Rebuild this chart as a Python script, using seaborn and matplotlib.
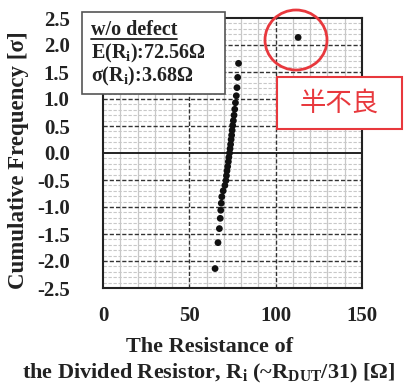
import matplotlib
matplotlib.use("Agg")
import matplotlib.pyplot as plt
import seaborn as sns
import pandas as pd
from matplotlib.patches import Rectangle, Ellipse
from matplotlib.lines import Line2D

# ---- data ----
resistance = [64.9, 66.6, 67.4, 67.9, 68.2, 68.5, 68.8, 69.6, 70.6, 71.2,
              71.5, 71.8, 72.2, 72.6, 72.9, 73.3, 73.6, 73.9, 74.2, 74.5,
              74.8, 75.1, 75.5, 75.9, 76.3, 76.7, 77.2, 77.6, 78.0, 78.5,
              113.0]
cum_freq = [-2.14, -1.66, -1.40, -1.21, -1.06, -0.93, -0.81, -0.70, -0.60, -0.51,
            -0.42, -0.33, -0.25, -0.16, -0.08, 0.00, 0.08, 0.16, 0.25, 0.33,
            0.42, 0.51, 0.60, 0.70, 0.81, 0.93, 1.06, 1.21, 1.40, 1.66,
            2.14]
x_ticks = [0, 50, 100, 150]
y_ticks = [-2.5, -2.0, -1.5, -1.0, -0.5, 0.0, 0.5, 1.0, 1.5, 2.0, 2.5]
stats_lines = ["w/o defect", r"E(R$_\mathrm{i}$):72.56Ω", r"σ(R$_\mathrm{i}$):3.68Ω"]
xlabel_lines = ["The Resistance of",
                r"the Divided Resistor, R$_\mathrm{i}$ (~R$_\mathrm{DUT}$/31) [Ω]"]
ylabel = "Cumulative Frequency [σ]"
outlier_label = "半不良"

df = pd.DataFrame({"R": resistance, "z": cum_freq})

sns.set_style("white")
plt.rcParams['font.family'] = ['Liberation Serif', 'DejaVu Serif']
plt.rcParams['font.weight'] = 'bold'
plt.rcParams['mathtext.fontset'] = 'custom'
plt.rcParams['mathtext.rm'] = 'Liberation Serif:bold'
plt.rcParams['mathtext.it'] = 'Liberation Serif:bold:italic'
plt.rcParams['mathtext.bf'] = 'Liberation Serif:bold'

W, H = 406, 385
fig = plt.figure(figsize=(W / 100, H / 100), dpi=100)
L, R_, T, B = 103, 362, 18, 288
ax = fig.add_axes([L / W, 1 - B / H, (R_ - L) / W, (B - T) / H])

# grids
for v in range(0, 151, 10):
    if v % 50 != 0:
        ax.axvline(v, color='#c8c8c8', lw=0.9, zorder=0)
for k in range(-25, 26):
    v = k / 10
    if k % 5 != 0:
        ax.axhline(v, color='#c8c8c8', lw=0.8, ls=(0, (3, 1.5)), zorder=0)
for v in [50, 100]:
    ax.axvline(v, color='#333333', lw=1.0, ls=(0, (3, 1.5)), zorder=1)
for v in y_ticks[1:-1]:
    if v == 0:
        ax.axhline(v, color='#222222', lw=1.4, zorder=1)
    else:
        ax.axhline(v, color='#333333', lw=1.0, ls=(0, (3, 1.5)), zorder=1)

sns.scatterplot(data=df, x="R", y="z", ax=ax, color='#111111', s=24,
                edgecolor='none', zorder=3, legend=False)

ax.set_xlim(0, 150)
ax.set_ylim(-2.5, 2.5)
ax.set_xticks(x_ticks)
ax.set_yticks(y_ticks)
ax.set_xticklabels([str(v) for v in x_ticks], fontsize=15, fontweight='bold', color='#222222')
ax.set_yticklabels([f"{v:.1f}" for v in y_ticks], fontsize=15, fontweight='bold', color='#222222')
ax.tick_params(axis='x', length=0, pad=13)
ax.tick_params(axis='y', length=0, pad=24)
for s in ax.spines.values():
    s.set_color('#222222')
    s.set_linewidth(1.5)

ax.set_xlabel("")
ax.set_ylabel(ylabel, fontsize=16.5, fontweight='bold', color='#222222')
ax.yaxis.set_label_coords((29 - L) / (R_ - L), (B - 160) / (B - T))

fig.text(210 / W, 1 - 352 / H, xlabel_lines[0], fontsize=16, fontweight='bold',
         ha='center', va='baseline', color='#222222')
fig.text(209 / W, 1 - 378 / H, xlabel_lines[1], fontsize=16, fontweight='bold',
         ha='center', va='baseline', color='#222222')

# stats box (figure coords)
bx0, by0, bx1, by1 = 82, 12, 225, 94
fig.patches.append(Rectangle((bx0 / W, 1 - by1 / H), (bx1 - bx0) / W, (by1 - by0) / H,
                             transform=fig.transFigure, facecolor='white',
                             edgecolor='#555555', lw=1.2, zorder=5))
ys = [30, 53, 76]
txts = []
for s_, yy in zip(stats_lines, ys):
    t = fig.text(91 / W, 1 - yy / H, s_, fontsize=14.5, fontweight='bold',
                 va='center', ha='left', zorder=6, color='#222222')
    txts.append(t)
fig.canvas.draw()
bb = txts[0].get_window_extent()
fig.lines.append(Line2D([bb.x0 / W, bb.x1 / W], [(bb.y0 + 1) / H, (bb.y0 + 1) / H],
                        transform=fig.transFigure, color='#222222', lw=1.3, zorder=6))

# red circle and label
red = '#e8383d'
fig.patches.append(Ellipse((296 / W, 1 - 40 / H), 62 / W, 60 / H, transform=fig.transFigure,
                           facecolor='none', edgecolor=red, lw=2.0, zorder=6))
fig.patches.append(Rectangle((277 / W, 1 - 129 / H), 125 / W, 52 / H, transform=fig.transFigure,
                             facecolor='white', edgecolor=red, lw=1.5, zorder=5))
fig.text(339.5 / W, 1 - 103 / H, outlier_label, fontsize=19, color=red,
         family=['Noto Sans CJK JP', 'DejaVu Sans'], fontweight='normal',
         ha='center', va='center', zorder=6)

fig.savefig("out.png", dpi=100)
